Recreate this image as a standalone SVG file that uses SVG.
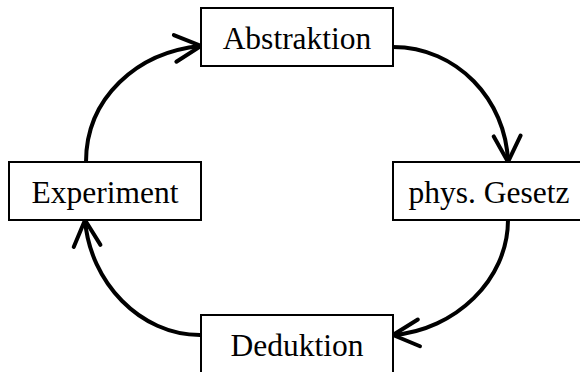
<svg xmlns="http://www.w3.org/2000/svg" width="580" height="372" viewBox="0 0 580 372">
<style>
.box{fill:#fff;stroke:#000;stroke-width:2}
.lbl{font-family:"Liberation Serif","Times New Roman",serif;font-size:31.5px;fill:#000;text-anchor:middle}
.conn{fill:none;stroke:#000;stroke-width:4;stroke-linecap:round;marker-end:url(#arr)}
</style>
<defs>
<marker id="arr" markerUnits="userSpaceOnUse" viewBox="-30 -16 32 32" refX="0" refY="0" markerWidth="32" markerHeight="32" orient="auto" overflow="visible">
<path d="M-26,-13.4 L0,0 L-26,13.4" fill="none" stroke="#000" stroke-width="4" stroke-linecap="round" stroke-linejoin="miter"/>
</marker>
</defs>
<rect width="580" height="372" fill="#fff"/>
<g id="connectors">
<path class="conn" d="M86,162 C86,98 137,52 201,46"/>
<path class="conn" d="M393,47 C457,47 506,100 508,162"/>
<path class="conn" d="M508,220 C508,280 455,330 393,335"/>
<path class="conn" d="M200,335 C140,335 90,282 85,220"/>
</g>
<g id="abstraktion">
<rect class="box" x="201" y="8" width="192" height="58"/>
<text class="lbl" x="297" y="48.5">Abstraktion</text>
</g>
<g id="experiment">
<rect class="box" x="9" y="162" width="192" height="58"/>
<text class="lbl" x="105" y="202.5">Experiment</text>
</g>
<g id="gesetz">
<rect class="box" x="393" y="162" width="192" height="58"/>
<text class="lbl" x="489" y="203">phys. Gesetz</text>
</g>
<g id="deduktion">
<rect class="box" x="201" y="315" width="192" height="58"/>
<text class="lbl" x="297" y="356">Deduktion</text>
</g>
</svg>
